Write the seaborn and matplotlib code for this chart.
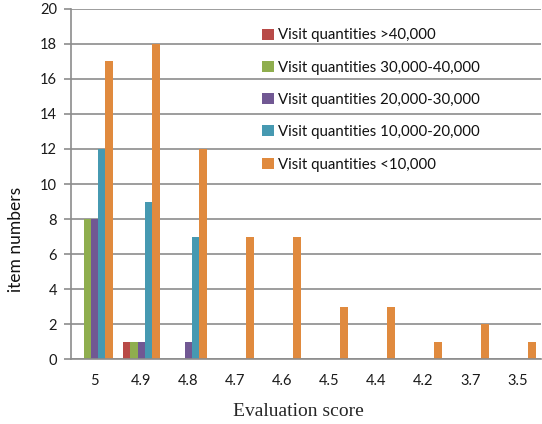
import matplotlib
matplotlib.use("Agg")
import matplotlib.pyplot as plt
import seaborn as sns
import pandas as pd
from matplotlib.ticker import FixedLocator, MultipleLocator

# Evaluation score categories (x axis)
scores = ["5", "4.9", "4.8", "4.7", "4.6", "4.5", "4.4", "4.2", "3.7", "3.5"]

# Item counts per visit-quantity group
visits_over_40k = [0, 1, 0, 0, 0, 0, 0, 0, 0, 0]
visits_30k_40k = [8, 1, 0, 0, 0, 0, 0, 0, 0, 0]
visits_20k_30k = [8, 1, 1, 0, 0, 0, 0, 0, 0, 0]
visits_10k_20k = [12, 9, 7, 0, 0, 0, 0, 0, 0, 0]
visits_under_10k = [17, 18, 12, 7, 7, 3, 3, 1, 2, 1]

groups = [
    "Visit quantities >40,000",
    "Visit quantities 30,000-40,000",
    "Visit quantities 20,000-30,000",
    "Visit quantities 10,000-20,000",
    "Visit quantities <10,000",
]
series = [visits_over_40k, visits_30k_40k, visits_20k_30k, visits_10k_20k, visits_under_10k]
colors = ["#B84A47", "#8FAE4E", "#715893", "#4699B1", "#E08A3E"]

rows = []
for g, vals in zip(groups, series):
    for s, v in zip(scores, vals):
        rows.append({"score": s, "group": g, "count": v})
df = pd.DataFrame(rows)

sns.set_style("white")
plt.rcParams["font.family"] = ["Lato", "DejaVu Sans"]

fig = plt.figure(figsize=(5.42, 4.24), dpi=100)
ax = fig.add_axes([0.131, 0.153, 0.867, 0.826])

sns.barplot(data=df, x="score", y="count", hue="group", order=scores,
            hue_order=groups, palette=colors, width=0.78, saturation=1,
            edgecolor="none", ax=ax)

ax.set_xlim(-0.5, len(scores) - 0.5)
ax.set_ylim(0, 20)
ax.yaxis.set_major_locator(MultipleLocator(2))
ax.grid(axis="y", color="#8c8c8c", linewidth=1.2)
ax.set_axisbelow(True)

for side in ("top", "right"):
    ax.spines[side].set_visible(False)
for side in ("left", "bottom"):
    ax.spines[side].set_color("#8c8c8c")
    ax.spines[side].set_linewidth(1.2)

# tick marks between categories on x, outward marks on y
ax.xaxis.set_minor_locator(FixedLocator([i - 0.5 for i in range(len(scores) + 1)]))
ax.tick_params(axis="x", which="major", length=0, pad=11, labelsize=10.5, colors="#1a1a1a")
ax.tick_params(axis="x", which="minor", length=5, width=1.2, color="#8c8c8c", direction="out")
ax.tick_params(axis="y", which="major", length=5, width=1.2, color="#8c8c8c",
               direction="out", labelsize=10.5, labelcolor="#1a1a1a", left=True, pad=5)

serif = ["Liberation Serif", "DejaVu Serif"]
ax.set_xlabel("Evaluation score", family=serif, fontsize=14, labelpad=13)
ax.xaxis.set_label_coords(0.484, -0.125)
ax.xaxis.label.set_verticalalignment("top")
ax.set_ylabel("item numbers", fontsize=12.5, color="#111111")
ax.yaxis.set_label_coords(-0.101, 0.343)

leg = ax.legend(loc="upper left", bbox_to_anchor=(0.3915, 0.966), frameon=False,
                fontsize=10.8, handlelength=0.75, handleheight=0.75,
                handletextpad=0.3, labelspacing=1.22, borderpad=0)
for t in leg.get_texts():
    t.set_color("#111111")

fig.savefig("out.png", dpi=100)
